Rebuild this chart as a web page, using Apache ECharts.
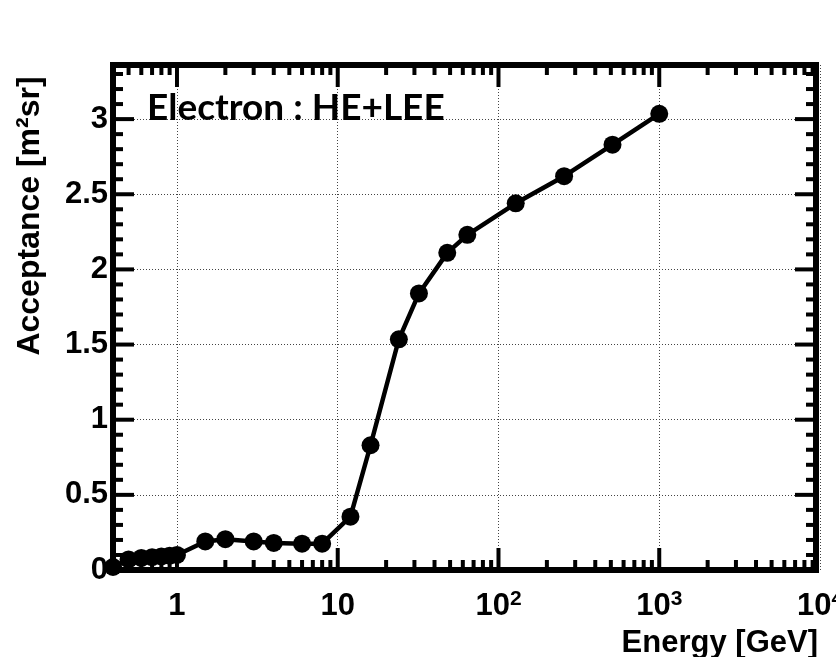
<!DOCTYPE html>
<html>
<head>
<meta charset="utf-8">
<title>Electron acceptance</title>
<script src="https://cdn.jsdelivr.net/npm/echarts@6/dist/echarts.min.js"></script>
<style>
  html, body { margin: 0; padding: 0; background: #fff; }
  #chart { width: 836px; height: 657px; }
</style>
</head>
<body>
<div id="chart"></div>
<script>
// Acceptance of the combined HE+LEE electron selection versus energy
const energyGeV = [0.4, 0.5, 0.6, 0.7, 0.8, 0.9, 1.0, 1.5, 2, 3, 4, 6, 8,
                   12, 16, 24, 32, 48, 64, 128, 256, 512, 1000];
const acceptance = [0.02, 0.07, 0.08, 0.085, 0.09, 0.095, 0.10, 0.19, 0.205, 0.19, 0.18, 0.175, 0.175,
                    0.355, 0.83, 1.535, 1.84, 2.11, 2.23, 2.44, 2.62, 2.83, 3.035];

// Axis tick positions
const xRange = [0.4, 10000];
const yRange = [0, 3.36];
const xMajorTicks = [1, 10, 100, 1000];
const xMinorTicks = [0.5, 0.6, 0.7, 0.8, 0.9];
for (const decade of [1, 10, 100, 1000]) {
  for (let m = 2; m <= 9; m++) xMinorTicks.push(m * decade);
}
const yMajorTicks = [0.5, 1, 1.5, 2, 2.5, 3];
const yMinorTicks = [];
for (let k = 1; k <= 33; k++) {
  if (k % 5 !== 0) yMinorTicks.push(k / 10);
}

const titleText = 'Electron : HE+LEE';
const xTitle = 'Energy [GeV]';
const yTitle = 'Acceptance [m²sr]';

const FONT = '"Liberation Sans", Arial, Helvetica, sans-serif';
const chart = echarts.init(document.getElementById('chart'), null, { renderer: 'canvas' });

const points = energyGeV.map((e, i) => [e, acceptance[i]]);

// Frame with inward ticks on all four sides
function renderFrame(params, api) {
  const cs = params.coordSys;
  const left = cs.x, top = cs.y, right = cs.x + cs.width - 4, bottom = cs.y + cs.height;
  const children = [];
  const tickStyle = { stroke: '#000', lineWidth: 4 };
  const inset = 2;
  const addX = (v, len) => {
    const px = api.coord([v, yRange[0]])[0];
    children.push({ type: 'line', shape: { x1: px, y1: bottom - inset, x2: px, y2: bottom - inset - len }, style: tickStyle });
    children.push({ type: 'line', shape: { x1: px, y1: top + inset, x2: px, y2: top + inset + len }, style: tickStyle });
  };
  const addY = (v, len) => {
    const py = api.coord([xRange[0], v])[1];
    children.push({ type: 'line', shape: { x1: left + inset, y1: py, x2: left + inset + len, y2: py }, style: tickStyle });
    children.push({ type: 'line', shape: { x1: right - inset, y1: py, x2: right - inset - len, y2: py }, style: tickStyle });
  };
  xMajorTicks.forEach(v => addX(v, 20));
  xMinorTicks.forEach(v => addX(v, 8));
  yMajorTicks.forEach(v => addY(v, 19));
  yMinorTicks.forEach(v => addY(v, 8));
  children.push({
    type: 'rect',
    shape: { x: left, y: top, width: right - left, height: bottom - top },
    style: { fill: null, stroke: '#000', lineWidth: 6 }
  });
  return { type: 'group', children };
}

const option = {
  animation: false,
  backgroundColor: '#fff',
  grid: {
    left: 113, right: 16, top: 65, bottom: 87,
    show: false, containLabel: false, outerBoundsMode: 'none'
  },
  xAxis: {
    type: 'log',
    min: xRange[0],
    max: xRange[1],
    logBase: 10,
    axisLine: { show: false },
    axisTick: { show: false },
    splitLine: { show: true, lineStyle: { color: '#444', width: 1, type: [1, 2] } },
    axisLabel: {
      margin: 19,
      color: '#000',
      hideOverlap: false,
      formatter: function (v) {
        const l = Math.log10(v);
        const r = Math.round(l);
        if (Math.abs(l - r) > 1e-6) return '';
        if (r === 0) return '{b|1}';
        if (r === 1) return '{b|10}';
        return '{b|10}{s|' + r + '}';
      },
      rich: {
        b: { fontFamily: FONT, fontWeight: 'bold', fontSize: 31, color: '#000', lineHeight: 34 },
        s: { fontFamily: FONT, fontWeight: 'bold', fontSize: 21, color: '#000', verticalAlign: 'top', lineHeight: 21, padding: [0, 0, 10, 0] }
      }
    }
  },
  yAxis: {
    type: 'value',
    min: yRange[0],
    max: yRange[1],
    interval: 0.5,
    axisLine: { show: false },
    axisTick: { show: false },
    splitLine: { show: true, lineStyle: { color: '#444', width: 1, type: [1, 2] } },
    axisLabel: {
      margin: 5,
      color: '#000',
      fontFamily: FONT,
      fontWeight: 'bold',
      fontSize: 31,
      showMaxLabel: false,
      formatter: function (v) {
        return Math.abs(v * 2 - Math.round(v * 2)) < 1e-9 ? String(v) : '';
      }
    }
  },
  graphic: [
    {
      type: 'text', left: 147, top: 90, z: 10,
      style: { text: titleText, fill: '#000', font: 'bold 37px Lato, "Open Sans", sans-serif' }
    },
    {
      type: 'text', x: 818, y: 643, z: 10,
      style: { text: xTitle, fill: '#000', font: 'bold 31px ' + FONT, align: 'right', verticalAlign: 'middle' }
    },
    {
      type: 'text', x: 30, y: 216, rotation: Math.PI / 2, z: 10,
      style: { text: yTitle, fill: '#000', font: 'bold 32px ' + FONT, align: 'center', verticalAlign: 'middle' }
    }
  ],
  series: [
    {
      type: 'custom',
      silent: true,
      z: 3,
      renderItem: renderFrame,
      data: [[xRange[0], yRange[0]]]
    },
    {
      type: 'line',
      z: 4,
      data: points,
      symbol: 'circle',
      symbolSize: 18,
      showAllSymbol: true,
      lineStyle: { color: '#000', width: 4.5 },
      itemStyle: { color: '#000' },
      silent: true
    }
  ]
};

chart.setOption(option);
</script>
</body>
</html>
